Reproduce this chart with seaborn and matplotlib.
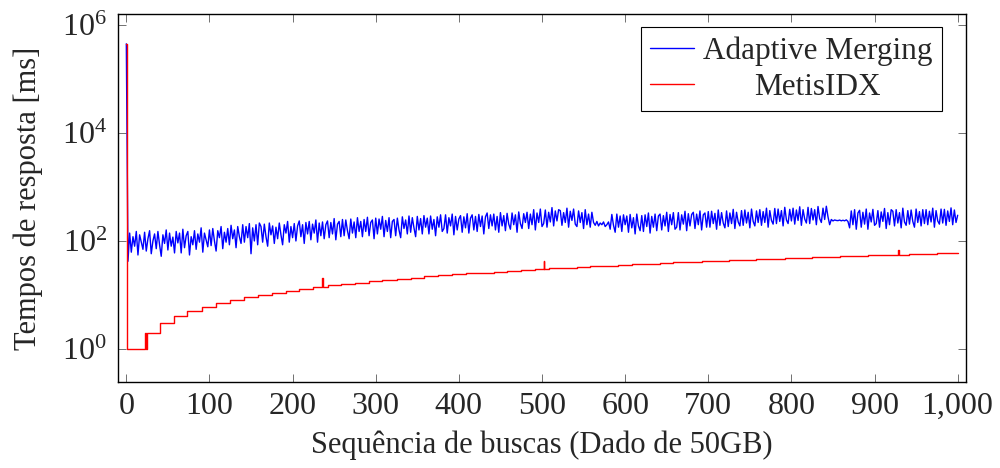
import numpy as np
import pandas as pd
import matplotlib
matplotlib.use("Agg")
import matplotlib.pyplot as plt
import matplotlib.ticker as mticker
import seaborn as sns

# Adaptive Merging: first query, then one reading every 2 queries (x = 2, 4, ..., 1000)
am_first_x = 0
am_first_ms = 4.5e5
am_x = np.arange(2, 1001, 2)
am_ms = [
    42, 140, 62, 120, 80, 150, 55, 130, 95, 70,
    145, 65, 110, 155, 58, 100, 135, 72, 150, 85,
    52, 130, 90, 160, 68, 140, 80, 118, 60, 150,
    92, 140, 60, 165, 75, 125, 150, 55, 120, 85,
    155, 70, 135, 95, 175, 62, 140, 105, 78, 160,
    82, 170, 100, 65, 155, 115, 185, 72, 145, 95,
    170, 85, 195, 110, 160, 75, 185, 120, 90, 200,
    95, 185, 115, 210, 58, 175, 100, 200, 85, 215,
    185, 95, 205, 120, 80, 215, 130, 190, 90, 180,
    110, 215, 130, 85, 200, 140, 230, 95, 185, 115,
    210, 100, 190, 235, 120, 200, 90, 220, 135, 230,
    105, 205, 140, 245, 95, 215, 125, 225, 110, 200,
    235, 115, 220, 135, 260, 105, 205, 230, 120, 250,
    125, 245, 155, 110, 255, 140, 225, 115, 270, 150,
    230, 120, 250, 150, 275, 125, 220, 245, 110, 265,
    135, 255, 165, 285, 120, 240, 150, 270, 115, 230,
    250, 125, 265, 160, 115, 280, 170, 245, 135, 290,
    145, 270, 175, 120, 285, 160, 260, 135, 295, 180,
    265, 135, 290, 165, 250, 125, 280, 180, 305, 150,
    170, 305, 140, 270, 190, 315, 130, 285, 160, 255,
    295, 145, 280, 175, 320, 140, 265, 305, 160, 285,
    150, 310, 185, 290, 135, 280, 330, 170, 305, 190,
    315, 160, 285, 145, 335, 190, 295, 155, 325, 205,
    165, 330, 200, 305, 145, 345, 210, 170, 320, 220,
    340, 170, 315, 200, 380, 160, 330, 220, 390, 185,
    210, 375, 180, 340, 225, 415, 190, 360, 235, 380,
    365, 195, 335, 220, 405, 180, 355, 240, 390, 205,
    185, 360, 220, 335, 170, 380, 200, 315, 180, 340,
    220, 195, 230, 190, 215, 200, 225, 185, 200, 225,
    165, 310, 195, 145, 315, 180, 290, 150, 305, 200,
    290, 145, 310, 175, 270, 135, 315, 190, 155, 295,
    150, 305, 185, 330, 140, 285, 180, 315, 155, 290,
    315, 160, 295, 190, 340, 150, 310, 200, 335, 165,
    180, 335, 160, 305, 205, 355, 155, 320, 190, 310,
    340, 170, 315, 200, 360, 160, 305, 330, 180, 350,
    180, 355, 210, 325, 165, 375, 195, 335, 215, 175,
    360, 185, 330, 210, 385, 170, 340, 225, 190, 365,
    195, 375, 215, 340, 175, 390, 230, 190, 360, 220,
    380, 195, 350, 220, 405, 180, 365, 240, 205, 400,
    210, 390, 230, 365, 190, 420, 245, 210, 385, 235,
    405, 205, 375, 240, 430, 195, 380, 255, 215, 420,
    210, 400, 245, 380, 200, 435, 260, 220, 405, 250,
    440, 280, 200, 250, 235, 245, 240, 238, 244, 236,
    242, 236, 246, 230, 175, 360, 200, 380, 165, 330,
    370, 180, 340, 205, 390, 165, 330, 225, 385, 195,
    210, 365, 180, 345, 230, 400, 170, 335, 200, 380,
    355, 190, 380, 215, 335, 175, 405, 225, 195, 365,
    205, 375, 230, 180, 390, 220, 350, 190, 380, 210,
    380, 200, 355, 225, 405, 180, 365, 235, 205, 390,
    215, 385, 195, 360, 230, 410, 200, 375, 220, 300,
]

# MetisIDX: staircase (query where the level starts, level in ms)
mi_step_x = [0, 1, 23, 24, 25, 41, 57, 73, 91, 108, 125, 142, 158, 175, 192,
             208, 225, 242, 258, 275, 292, 308, 325, 342, 358, 375, 392,
             408, 425, 442, 458, 475, 492, 508, 525, 542, 558, 575, 592,
             608, 625, 642, 658, 675, 692, 708, 725, 742, 758, 775, 792,
             808, 825, 842, 858, 875, 892, 908, 925, 942, 958, 975, 992, 1000]
mi_step_ms = [4.5e5, 1, 2, 1, 2, 3, 4, 5, 6, 7, 8, 9, 10, 11, 12,
              13, 14, 15, 16, 17, 18, 19, 20, 21, 22, 23, 24,
              25, 26, 27, 28, 29, 30, 31, 32, 33, 34, 35, 36,
              37, 38, 39, 40, 41, 42, 43, 44, 45, 46, 47, 48,
              49, 50, 51, 52, 53, 54, 55, 56, 57, 58, 59, 60, 60]
# isolated slow queries
mi_spike_x = [235, 502, 928]
mi_spike_ms = [21, 43, 68]
mi_spike_back = [14, 30, 56]

am = pd.DataFrame({"x": np.r_[am_first_x, am_x], "ms": np.r_[am_first_ms, am_ms]})

mi = pd.DataFrame({"x": mi_step_x, "ms": mi_step_ms})
spk = pd.DataFrame({"x": mi_spike_x + [v + 1 for v in mi_spike_x],
                    "ms": mi_spike_ms + mi_spike_back})
mi = pd.concat([mi, spk]).sort_values("x").reset_index(drop=True)

sns.set_style("ticks")
plt.rcParams["font.family"] = ["Liberation Serif", "DejaVu Serif"]
plt.rcParams["mathtext.fontset"] = "custom"
plt.rcParams["mathtext.rm"] = "Liberation Serif"
plt.rcParams["mathtext.it"] = "Liberation Serif:italic"
plt.rcParams["mathtext.default"] = "regular"

fig = plt.figure(figsize=(10, 4.68), dpi=100)
ax = fig.add_axes([0.118, 0.184, 0.848, 0.786])

sns.lineplot(data=am, x="x", y="ms", ax=ax, color="blue", lw=1.0,
             label="Adaptive Merging", estimator=None)
sns.lineplot(data=mi, x="x", y="ms", ax=ax, color="red", lw=1.0,
             label="MetisIDX", estimator=None, drawstyle="steps-post")

ax.set_yscale("log")
ax.set_xlim(-10, 1010)
ax.set_ylim(0.245, 1.6e6)
ax.set_xticks(range(0, 1001, 100))
ax.xaxis.set_major_formatter(mticker.FuncFormatter(lambda v, p: f"{int(v):,}"))
ax.set_yticks([1e0, 1e2, 1e4, 1e6])
ax.yaxis.set_major_formatter(mticker.LogFormatterMathtext())
ax.yaxis.set_minor_locator(mticker.NullLocator())

ax.tick_params(direction="in", top=True, right=True, length=6, width=0.6,
               color="0.35", labelsize=23)
ax.tick_params(axis="x", pad=7)
ax.tick_params(axis="y", pad=8)
for s in ax.spines.values():
    s.set_visible(True)
    s.set_color("black")
    s.set_linewidth(1.0)

ax.set_xlabel("Sequência de buscas (Dado de 50GB)", fontsize=22, labelpad=7)
ax.set_ylabel("Tempos de resposta [ms]", fontsize=22)
ax.yaxis.set_label_coords(-0.088, 0.5)

leg = ax.legend(loc="upper right", bbox_to_anchor=(0.9717, 0.9647),
                borderaxespad=0, fontsize=22.5, frameon=True, fancybox=False,
                framealpha=1, edgecolor="black", handlelength=1.4,
                handletextpad=0.3, borderpad=0.3, labelspacing=0.22)
leg.get_frame().set_linewidth(0.8)
for h in leg.get_lines():
    h.set_linewidth(1.0)

# centre the shorter entry like pgfplots does
fig.canvas.draw()
w0 = leg.get_texts()[0].get_window_extent().width
w1 = leg.get_texts()[1].get_window_extent().width
leg.get_texts()[1].set_x((w0 - w1) / 2)

fig.savefig("out.png", dpi=100)
